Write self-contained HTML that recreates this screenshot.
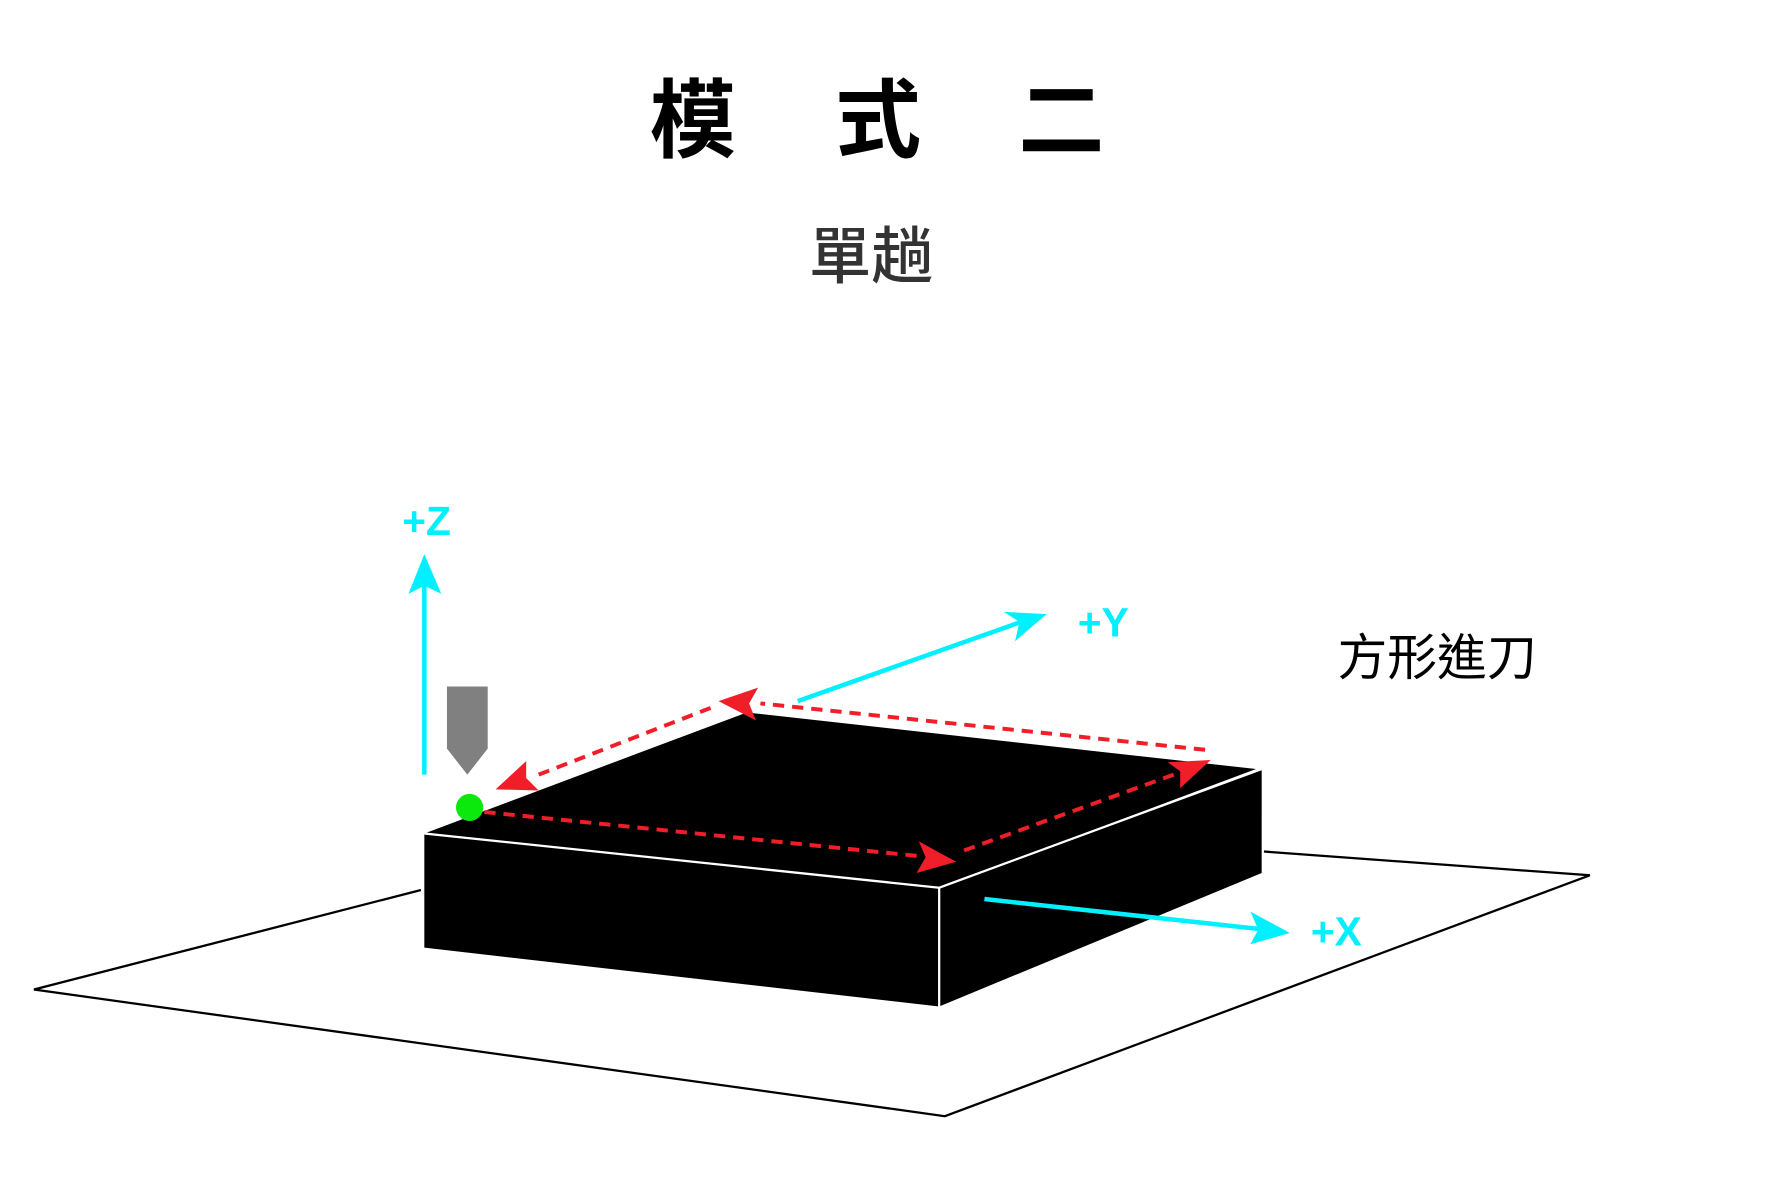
<!DOCTYPE html>
<html><head><meta charset="utf-8"><style>
html,body{margin:0;padding:0;background:#fff;width:1772px;height:1201px;overflow:hidden}
svg{display:block}
</style></head><body>
<svg width="1772" height="1201" viewBox="0 0 1566 1062" preserveAspectRatio="none" xmlns="http://www.w3.org/2000/svg">
<g font-family="'Liberation Sans','Noto Sans CJK TC','Noto Sans CJK SC',sans-serif">
<text x="612" y="133" font-size="76" font-weight="bold" text-anchor="middle" fill="#000">模</text>
<text x="776" y="133" font-size="76" font-weight="bold" text-anchor="middle" fill="#000">式</text>
<text x="938" y="133" font-size="76" font-weight="bold" text-anchor="middle" fill="#000">二</text>
<text x="770" y="246" font-size="55" font-weight="500" text-anchor="middle" fill="#333">單趟</text>
<text x="1270" y="597" font-size="44" text-anchor="middle" fill="#000">方形進刀</text>
<text x="377" y="473" font-size="36" font-weight="bold" text-anchor="middle" fill="#00f0ff">+Z</text>
<text x="975" y="563" font-size="36" font-weight="bold" text-anchor="middle" fill="#00f0ff">+Y</text>
<text x="1181" y="836" font-size="36" font-weight="bold" text-anchor="middle" fill="#00f0ff">+X</text>
</g>
<polyline points="372,787 30,875 835,987 1405,774 1117,753" fill="none" stroke="#000" stroke-width="2"/>
<polygon points="375,737 660,630 1110,680 830,785" fill="#000"/>
<polygon points="375,737 830,785 830,890 375,838" fill="#000"/>
<polygon points="830,785 1115,680 1115,772 830,890" fill="#000"/>
<polyline points="375,737 830,785 1115,680" fill="none" stroke="#fff" stroke-width="2"/>
<line x1="830" y1="785" x2="830" y2="890" stroke="#fff" stroke-width="2"/>
<line x1="375" y1="685" x2="375" y2="515" stroke="#00f0ff" stroke-width="4"/>
<polygon points="375,490 390,525 375,518 361,525" fill="#00f0ff"/>
<line x1="705" y1="620" x2="905" y2="549" stroke="#00f0ff" stroke-width="4"/>
<polygon points="925,543 897,567 901,550 887,541" fill="#00f0ff"/>
<line x1="870" y1="795" x2="1118" y2="822" stroke="#00f0ff" stroke-width="4"/>
<polygon points="1140,825 1105,835 1112,822 1105,806" fill="#00f0ff"/>
<polygon points="395,607 431,607 431,662 413,685 395,662" fill="#808080"/>
<g stroke="#f01e28" stroke-width="3.5" stroke-dasharray="10,7" fill="none">
<line x1="428" y1="718" x2="812" y2="757"/>
<line x1="852" y1="752" x2="1040" y2="684"/>
<line x1="1065" y1="663" x2="672" y2="622"/>
<line x1="628" y1="626" x2="476" y2="685"/>
</g>
<polygon points="845,762 810,772 818,758 812,744" fill="#f01e28"/>
<polygon points="1070,672 1043,697 1043,682 1032,674" fill="#f01e28"/>
<polygon points="635,620 670,608 662,622 668,637" fill="#f01e28"/>
<polygon points="438,698 465,673 465,688 476,699" fill="#f01e28"/>
<circle cx="415" cy="714" r="12" fill="#0be80b"/>
</svg>
</body></html>
